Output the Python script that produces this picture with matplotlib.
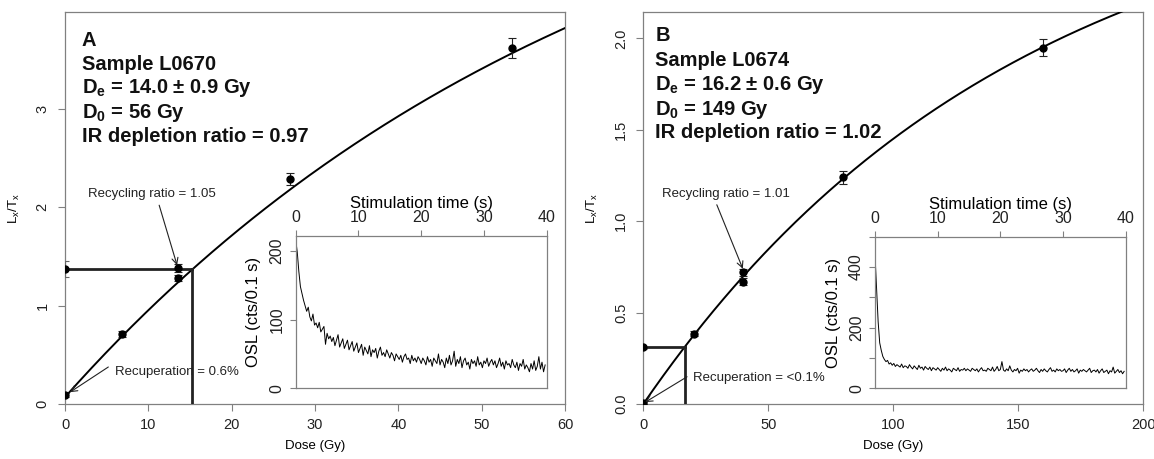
import numpy as np
import matplotlib
matplotlib.use("Agg")
import matplotlib.pyplot as plt

plt.rcParams['font.family'] = ['Liberation Sans', 'DejaVu Sans']
plt.rcParams['mathtext.default'] = 'regular'

# ---------------- data ----------------
# Panel A (sample L0670)
doseA = [0.0, 6.8, 13.5, 13.5, 27.0, 53.6]
lxtxA = [0.09, 0.71, 1.28, 1.38, 2.29, 3.62]
errA = [0.02, 0.03, 0.03, 0.04, 0.06, 0.10]
natA_lx, natA_err, natA_de = 1.37, 0.08, 15.25
fitA = dict(amp=6.28, d0=66.0, off=0.07)

# Panel B (sample L0674)
doseB = [0.0, 20.2, 40.0, 40.0, 80.0, 160.0]
lxtxB = [0.005, 0.385, 0.67, 0.72, 1.24, 1.95]
errB = [0.005, 0.012, 0.02, 0.02, 0.035, 0.046]
natB_lx, natB_err, natB_de = 0.31, 0.01, 16.7
fitB = dict(amp=2.968, d0=149.0, off=0.0)

textA = ["A", "Sample L0670", "D$_e$ = 14.0 ± 0.9 Gy", "D$_0$ = 56 Gy",
         "IR depletion ratio = 0.97"]
textB = ["B", "Sample L0674", "D$_e$ = 16.2 ± 0.6 Gy", "D$_0$ = 149 Gy",
         "IR depletion ratio = 1.02"]

# OSL decay curves (0.25 s channels)
oslA = [216, 198, 170, 148, 138, 128, 120, 112, 118, 104, 98, 108, 92, 95, 88, 96, 82, 86, 90, 64,
        80, 72, 76, 68, 74, 62, 70, 78, 60, 66, 72, 58, 64, 70, 56, 62, 68, 54, 60, 66,
        52, 58, 64, 48, 60, 55, 50, 62, 46, 56, 52, 58, 44, 54, 60, 48, 52, 46, 56, 50,
        44, 52, 48, 40, 50, 46, 42, 48, 38, 46, 50, 42, 44, 36, 48, 40, 44, 38, 46, 42,
        36, 44, 40, 34, 46, 38, 42, 32, 44, 40, 36, 50, 34, 42, 38, 30, 44, 36, 48, 34,
        40, 54, 32, 42, 36, 46, 30, 40, 44, 34, 38, 28, 42, 36, 40, 32, 46, 34, 38, 30,
        40, 36, 44, 32, 38, 42, 34, 40, 30, 36, 44, 32, 38, 28, 40, 34, 36, 30, 42, 34,
        30, 38, 26, 36, 32, 42, 28, 34, 30, 24, 36, 28, 40, 26, 32, 46, 28, 38, 24, 34]
oslB = [440, 330, 220, 150, 125, 105, 95, 88, 92, 80, 84, 76, 82, 72, 78, 74, 70, 80, 68, 74,
        72, 66, 78, 70, 64, 74, 68, 62, 76, 66, 70, 60, 72, 66, 62, 70, 58, 68, 64, 60,
        68, 62, 56, 66, 60, 70, 58, 64, 60, 54, 66, 62, 58, 68, 56, 62, 60, 66, 58, 64,
        60, 56, 66, 62, 58, 64, 54, 62, 68, 58, 60, 56, 66, 62, 58, 70, 56, 62, 72, 58,
        62, 88, 60, 56, 64, 58, 74, 60, 54, 62, 58, 66, 50, 60, 56, 64, 58, 62, 54, 60,
        64, 56, 60, 66, 58, 52, 62, 56, 64, 58, 54, 62, 68, 56, 60, 54, 64, 58, 62, 56,
        58, 64, 52, 60, 66, 56, 62, 54, 58, 64, 50, 60, 56, 62, 58, 54, 60, 66, 52, 58,
        60, 54, 62, 50, 58, 64, 52, 56, 60, 48, 58, 54, 70, 50, 56, 62, 52, 58, 48, 56]
chan = 0.25

GRAY = '#808080'
W, H = 1154, 459
fig = plt.figure(figsize=(W / 100, H / 100), dpi=100)


def rect(l, r, t, b):
    return [l / W, 1 - b / H, (r - l) / W, (b - t) / H]


def style_main(ax, xticks, yticks, ylabels):
    for s in ax.spines.values():
        s.set_color(GRAY)
        s.set_linewidth(0.9)
    ax.set_xticks(xticks)
    ax.set_yticks(yticks)
    ax.set_yticklabels(ylabels)
    ax.tick_params(colors=GRAY, labelcolor='#222222', labelsize=10.5, length=5, width=0.8)
    ax.tick_params(axis='x', pad=5)
    ax.tick_params(axis='y', pad=6)
    for lab in ax.get_yticklabels():
        lab.set_rotation(90)
        lab.set_va('center')
        lab.set_ha('right')
    ax.set_xlabel('Dose (Gy)', fontsize=9.5, labelpad=6)
    ax.set_ylabel('L$_x$/T$_x$', fontsize=9.5, labelpad=10)


def main_panel(ax, dose, lxtx, err, nat_lx, nat_err, nat_de, fit, xmax, ymax):
    xs = np.linspace(0, xmax, 300)
    ys = fit['amp'] * (1 - np.exp(-xs / fit['d0'])) + fit['off']
    ax.plot(xs, ys, color='black', lw=1.4, zorder=3)
    ax.errorbar(dose, lxtx, yerr=err, fmt='o', color='black', ms=5,
                ecolor='#222222', elinewidth=0.8, capsize=3, capthick=0.8, zorder=4)
    ax.errorbar([0], [nat_lx], yerr=[nat_err], fmt='o', color='black', ms=5,
                ecolor='#666666', elinewidth=0.8, capsize=3, capthick=0.8, zorder=4)
    ax.plot([0, nat_de], [nat_lx, nat_lx], color='#222222', lw=2, zorder=3)
    ax.plot([nat_de, nat_de], [0, nat_lx], color='#222222', lw=2, zorder=3)
    ax.set_xlim(0, xmax)
    ax.set_ylim(0, ymax)


def title_block(ax, lines, x, ys):
    for ln, y in zip(lines, ys):
        ax.text(x, y, ln, transform=ax.transAxes, fontsize=14.5, fontweight='bold',
                ha='left', va='center', color='#111111')


def annot(ax, txt, xy, xytext, txtpos):
    ax.annotate('', xy=xy, xytext=xytext,
                arrowprops=dict(arrowstyle='->', lw=0.8, color='#222222',
                                mutation_scale=11, shrinkA=0, shrinkB=0), zorder=5)
    ax.text(txtpos[0], txtpos[1], txt, fontsize=9.5, ha='left', va='center', color='#222222')


def inset(rectv, osl, ymax, yticks, ylabels):
    ax = fig.add_axes(rectv)
    t = np.arange(len(osl)) * chan
    ax.plot(t, osl, color='black', lw=0.7)
    ax.set_xlim(0, 40)
    ax.set_ylim(0, ymax)
    for s in ax.spines.values():
        s.set_color(GRAY)
        s.set_linewidth(0.9)
    ax.xaxis.tick_top()
    ax.xaxis.set_label_position('top')
    ax.set_xticks([0, 10, 20, 30, 40])
    ax.set_yticks(yticks)
    ax.set_yticklabels(ylabels)
    ax.tick_params(colors=GRAY, labelcolor='#222222', labelsize=11.5, length=4, width=0.8, pad=4)
    for lab in ax.get_yticklabels():
        lab.set_rotation(90)
        lab.set_va('center')
        lab.set_ha('right')
    ax.set_xlabel('Stimulation time (s)', fontsize=12, labelpad=1)
    ax.set_ylabel('OSL (cts/0.1 s)', fontsize=12, labelpad=6)
    return ax


# ---- Panel A ----
axA = fig.add_axes(rect(65, 565, 12.3, 404))
main_panel(axA, doseA, lxtxA, errA, natA_lx, natA_err, natA_de, fitA, 60, 3.98)
style_main(axA, [0, 10, 20, 30, 40, 50, 60], [0, 1, 2, 3], ['0', '1', '2', '3'])
title_block(axA, textA, 0.034, [0.929, 0.868, 0.807, 0.743, 0.682])
annot(axA, 'Recycling ratio = 1.05', (13.45, 1.41), (11.3, 2.02), (2.7, 2.134))
annot(axA, 'Recuperation = 0.6%', (0.6, 0.12), (5.2, 0.376), (6.0, 0.328))
inset(rect(295.7, 546.7, 235.7, 388.3), oslA, 222, [0, 100, 200], ['0', '100', '200'])

# ---- Panel B ----
axB = fig.add_axes(rect(643.3, 1143.3, 12.3, 404))
main_panel(axB, doseB, lxtxB, errB, natB_lx, natB_err, natB_de, fitB, 200, 2.143)
style_main(axB, [0, 50, 100, 150, 200], [0, 0.5, 1.0, 1.5, 2.0],
           ['0.0', '0.5', '1.0', '1.5', '2.0'])
title_block(axB, textB, 0.024, [0.942, 0.876, 0.814, 0.751, 0.692])
annot(axB, 'Recycling ratio = 1.01', (39.8, 0.74), (29.4, 1.09), (7.3, 1.149))
annot(axB, 'Recuperation = <0.1%', (0.8, 0.01), (17.5, 0.149), (19.9, 0.144))
inset(rect(875, 1125.7, 236.7, 388.3), oslB, 499, [0, 100, 200, 300, 400, 500],
      ['0', '', '200', '', '400', ''])

fig.savefig('out.png', dpi=100)
